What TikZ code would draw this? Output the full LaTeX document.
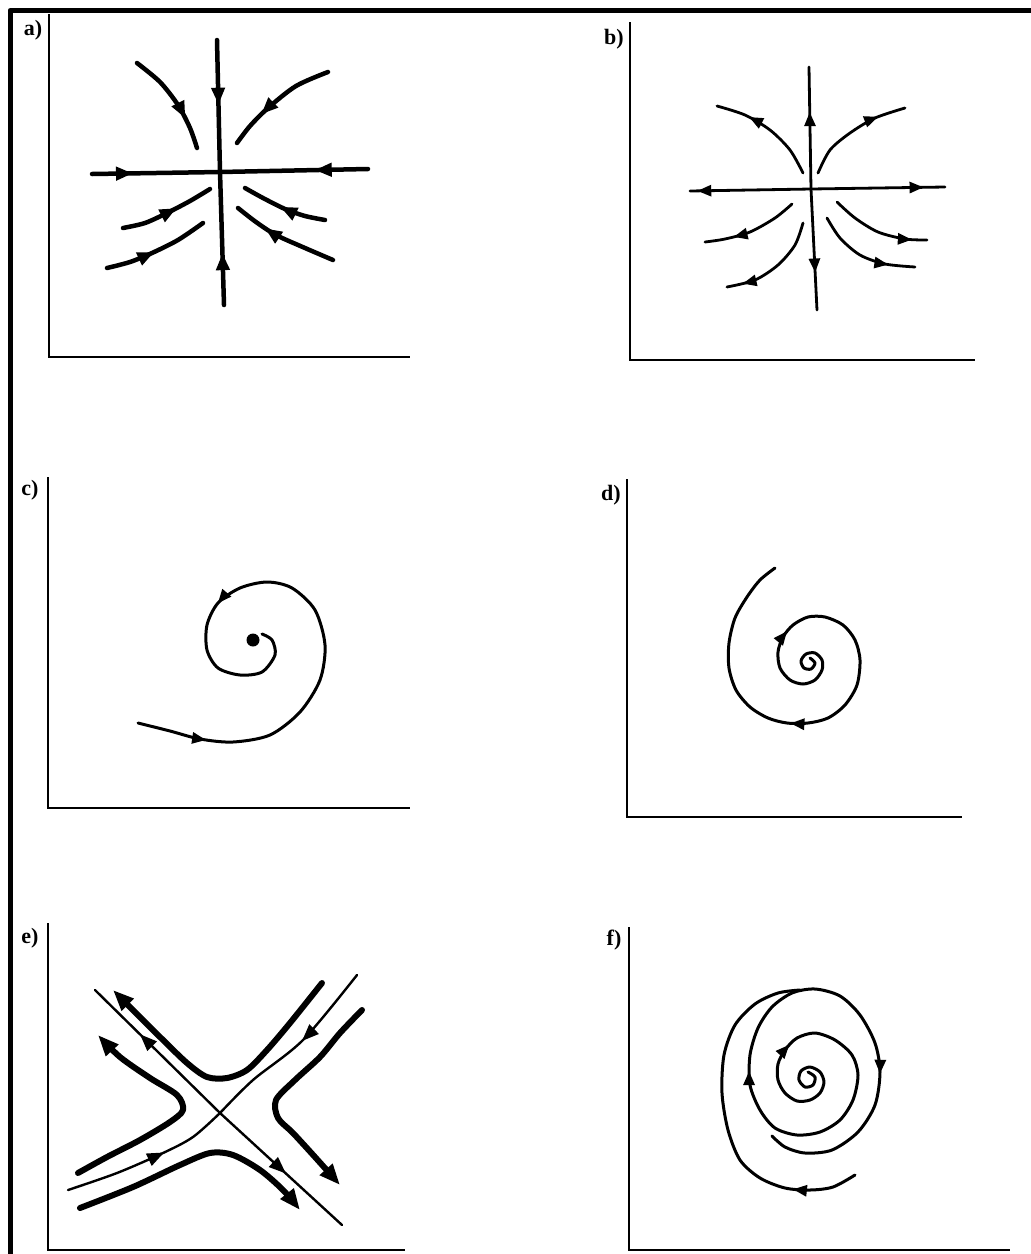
\documentclass[tikz,border=0pt]{standalone}
\usepackage{fontspec}
\setmainfont{Liberation Serif}
\usetikzlibrary{arrows.meta, decorations.markings}

\begin{document}
\begin{tikzpicture}[x=1pt, y=-1pt, line join=round,
  axis/.style={line width=2.8pt, line join=miter},
  flowa/.style={line width=4.5pt, line cap=round},
  flowb/.style={line width=2.8pt, line cap=round},
  flowc/.style={line width=3pt, line cap=round},
  ethick/.style={line width=6pt, line cap=round},
  ethin/.style={line width=2.4pt, line cap=round},
  etip/.style={-{Triangle[length=21pt, width=16pt]}},
  flowarrow/.style={postaction={decorate, decoration={markings,
    mark=at position #1 with {\arrow{Triangle[length=14pt, width=11pt]}}}}},
  bigarrow/.style={postaction={decorate, decoration={markings,
    mark=at position #1 with {\arrow{Triangle[length=17pt, width=13pt]}}}}},
  lbl/.style={font=\fontsize{22}{22}\selectfont\bfseries, inner sep=0pt}]
  \useasboundingbox (0,0) rectangle (1031,1254);
  % 外框（上、左）
  \draw[line width=5pt] (10,1254) |- (1031,10.5);
  % 坐标轴
  \draw[axis] (49,14) |- (410,357);
  \draw[axis] (630,22) |- (975,360);
  \draw[axis] (48,477) |- (410,808);
  \draw[axis] (627,479) |- (962,817);
  \draw[axis] (48,923) |- (405,1250);
  \draw[axis] (629,927) |- (1010,1250);
  \node[lbl] (la) at (33,30) {a)};
  \node[lbl] (lb) at (614,39) {b)};
  \node[lbl] (lc) at (30,490) {c)};
  \node[lbl] (ld) at (611,495) {d)};
  \node[lbl] (le) at (30,938) {e)};
  \node[lbl] (lf) at (614,940) {f)};

  % a) 稳定结点：箭头指向中心
  \coordinate (aO) at (220,172);
  \coordinate (aW) at (92,174);
  \coordinate (aE) at (368,169);
  \coordinate (aN) at (217,40);
  \coordinate (aS) at (224,305);
  \draw[flowa, bigarrow=0.32] (aW) -- (aO);
  \draw[flowa, bigarrow=0.36] (aE) -- (aO);
  \draw[flowa, bigarrow=0.49] (aN) -- (aO);
  \draw[flowa, bigarrow=0.39] (aS) -- (aO);
  \draw[flowa, bigarrow=0.7] plot[smooth] coordinates {(137,63) (160,82) (178,105) (190,128) (197,148)};
  \draw[flowa, bigarrow=0.68] plot[smooth] coordinates {(328,72) (296,86) (268,108) (250,126) (237,143)};
  \draw[flowa, bigarrow=0.6] plot[smooth] coordinates {(123,228) (145,223) (167,213) (190,201) (210,189)};
  \draw[flowa, bigarrow=0.47] plot[smooth] coordinates {(107,268) (130,262) (152,253) (178,240) (203,223)};
  \draw[flowa, bigarrow=0.54] plot[smooth] coordinates {(325,220) (305,216) (285,209) (263,198) (245,188)};
  \draw[flowa, bigarrow=0.69] plot[smooth] coordinates {(333,260) (305,248) (276,235) (256,222) (238,208)};

  % b) 不稳定结点：箭头离开中心
  \coordinate (bO) at (811,189);
  \coordinate (bW) at (690,191);
  \coordinate (bE) at (945,187);
  \coordinate (bN) at (809,67);
  \coordinate (bS) at (817,310);
  \draw[flowb, flowarrow=0.94] (bO) -- (bW);
  \draw[flowb, flowarrow=0.84] (bO) -- (bE);
  \draw[flowb, flowarrow=0.63] (bO) -- (bN);
  \draw[flowb, flowarrow=0.69] (bO) -- (bS);
  \draw[flowb, flowarrow=0.7] plot[smooth] coordinates {(803,173) (790,150) (770,130) (745,115) (717,106)};
  \draw[flowb, flowarrow=0.75] plot[smooth] coordinates {(818,173) (830,150) (850,133) (875,118) (905,108)};
  \draw[flowb, flowarrow=0.7] plot[smooth] coordinates {(792,204) (775,218) (750,232) (725,239) (705,242)};
  \draw[flowb, flowarrow=0.85] plot[smooth] coordinates {(803,223) (795,245) (778,265) (755,280) (727,287)};
  \draw[flowb, flowarrow=0.85] plot[smooth] coordinates {(837,202) (855,218) (878,232) (905,239) (927,240)};
  \draw[flowb, flowarrow=0.75] plot[smooth] coordinates {(827,218) (840,238) (860,255) (885,264) (915,267)};

  % c) 稳定焦点
  \draw[flowc, flowarrow=0.125, flowarrow=0.705] plot[smooth] coordinates {(138,723) (170,731) (200,739) (233,742) (270,735) (300,712) (320,680) (325,645) (315,610) (292,588) (267,582) (240,588) (218,603) (207,625) (207,650) (218,668) (240,675) (262,672) (275,655) (272,640) (262,634)};
  \fill (253,640) circle (6.5);

  % d) 不稳定焦点
  \draw[flowc, flowarrow=0.28, flowarrow=0.645] plot[smooth] coordinates {(810,658) (815,663) (811,669) (804,668) (801,661) (806,654) (815,653) (822,660) (822,670) (815,680) (803,684) (790,680) (780,668) (778,652) (783,637) (793,625) (808,617) (825,617) (843,625) (855,640) (860,660) (857,685) (845,705) (828,718) (808,723) (787,723) (768,718) (750,707) (736,690) (729,668) (729,643) (735,618) (747,597) (760,580) (775,568)};

  % e) 鞍点
  \coordinate (eO) at (220,1113);
  \draw[ethin, bigarrow=0.64] (eO) -- (95,990);
  \draw[ethin, bigarrow=0.54] (eO) -- (342,1225);
  \draw[ethin, bigarrow=0.6] plot[smooth] coordinates {(68,1190) (117,1173) (163,1153) (193,1137) (eO)};
  \draw[ethin, bigarrow=0.44] plot[smooth] coordinates {(357,975) (303,1040) (253,1080) (eO)};
  \draw[ethick, etip] plot[smooth] coordinates {(322,983) (290,1023) (267,1050) (247,1070) (227,1078) (207,1077) (187,1063) (160,1037) (133,1010) (113,990)};
  \draw[ethick, etip] plot[smooth] coordinates {(78,1173) (107,1157) (140,1140) (170,1122) (183,1110) (177,1095) (150,1078) (120,1057) (98,1035)};
  \draw[ethick, etip] plot[smooth] coordinates {(362,1010) (340,1033) (320,1057) (295,1080) (276,1100) (278,1118) (293,1133) (315,1157) (340,1185)};
  \draw[ethick, etip] plot[smooth] coordinates {(80,1208) (133,1187) (180,1165) (210,1153) (233,1155) (260,1170) (283,1190) (300,1210)};

  % f) 极限环
  \draw[flowc, flowarrow=0.213, flowarrow=0.538, flowarrow=0.812] plot[smooth] coordinates {(808,1072) (815,1077) (813,1085) (805,1087) (799,1080) (801,1071) (810,1067) (820,1072) (824,1082) (820,1093) (810,1100) (797,1101) (785,1093) (778,1080) (778,1064) (785,1050) (797,1038) (815,1033) (835,1040) (852,1055) (858,1075) (853,1100) (840,1120) (820,1132) (797,1135) (775,1128) (760,1110) (750,1085) (750,1055) (758,1028) (772,1007) (792,993) (815,989) (840,996) (860,1015) (875,1043) (880,1072) (875,1105) (858,1132) (832,1150) (805,1153) (785,1147) (772,1136)};
  \draw[flowc, flowarrow=0.19] plot[smooth] coordinates {(855,1175) (833,1187) (810,1190) (785,1188) (760,1178) (740,1160) (728,1130) (722,1093) (724,1055) (735,1025) (755,1004) (778,993) (800,990)};
\end{tikzpicture}
\end{document}
